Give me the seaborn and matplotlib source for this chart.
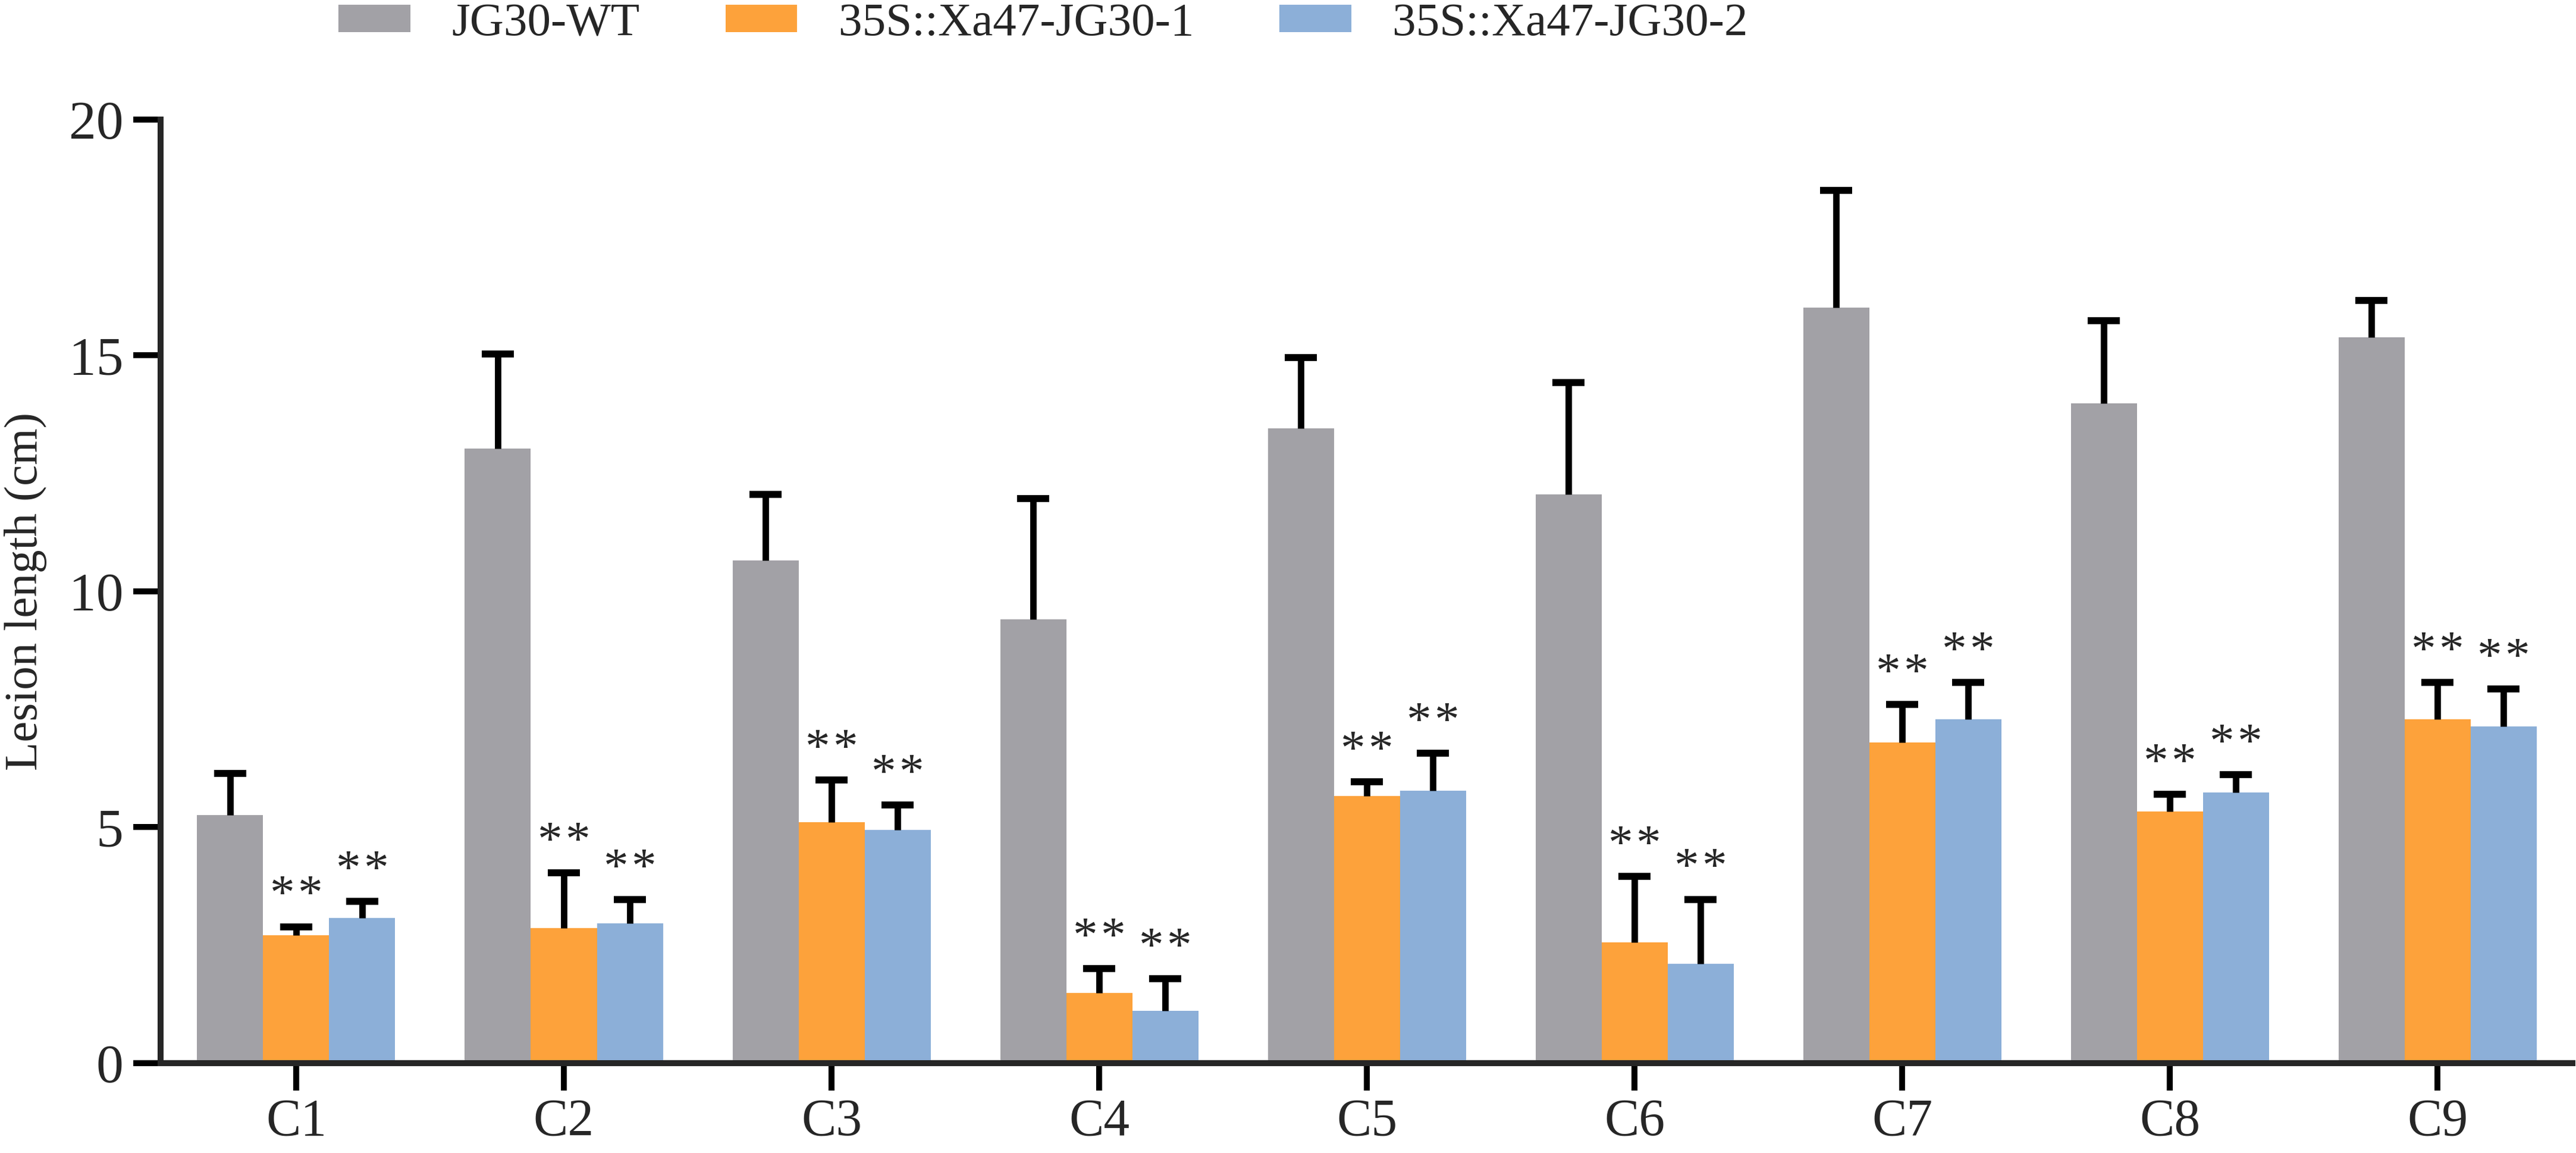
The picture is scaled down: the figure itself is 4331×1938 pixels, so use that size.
import numpy as np
import pandas as pd
import matplotlib
matplotlib.use('Agg')
import matplotlib.pyplot as plt
import seaborn as sns

# data (mean and upper SD)
groups = ['C1', 'C2', 'C3', 'C4', 'C5', 'C6', 'C7', 'C8', 'C9']
lines = ['JG30-WT', '35S::Xa47-JG30-1', '35S::Xa47-JG30-2']
wt_mean = [5.26, 13.03, 10.66, 9.40, 13.46, 12.06, 16.01, 13.99, 15.39]
wt_sd = [0.88, 2.00, 1.40, 2.56, 1.50, 2.37, 2.49, 1.75, 0.77]
l1_mean = [2.71, 2.86, 5.11, 1.49, 5.66, 2.56, 6.80, 5.33, 7.29]
l1_sd = [0.18, 1.17, 0.89, 0.51, 0.30, 1.40, 0.80, 0.37, 0.78]
l2_mean = [3.07, 2.96, 4.94, 1.11, 5.77, 2.11, 7.29, 5.74, 7.13]
l2_sd = [0.36, 0.50, 0.53, 0.68, 0.80, 1.36, 0.78, 0.37, 0.80]
signif = [False, True, True]  # "* *" above the two transgenic lines

colors = ['#A2A1A6', '#FDA23B', '#8CAFD8']

means = [wt_mean, l1_mean, l2_mean]
sds = [wt_sd, l1_sd, l2_sd]
df = pd.DataFrame({
    'group': groups * 3,
    'line': np.repeat(lines, len(groups)),
    'length': np.concatenate(means),
})

sns.set_style('ticks')
plt.rcParams['font.family'] = ['Liberation Serif', 'DejaVu Serif']

fig = plt.figure(figsize=(4331 / 300, 1938 / 300), dpi=300)
ax = fig.add_axes([0.0623, 0.078, 0.9363, 0.8183])

sns.barplot(data=df, x='group', y='length', hue='line', hue_order=lines,
            palette=colors, width=0.74, errorbar=None, saturation=1,
            linewidth=0, ax=ax)

# one-sided (upper) error bars and significance stars
bar_conts = list(ax.containers)
for i, cont in enumerate(bar_conts):
    xs = [p.get_x() + p.get_width() / 2 for p in cont.patches]
    hs = [p.get_height() for p in cont.patches]
    eb = ax.errorbar(xs, hs, yerr=[np.zeros(len(hs)), sds[i]], fmt='none',
                     ecolor='black', elinewidth=2.6, capsize=6.5,
                     capthick=2.8, zorder=3)
    # hide the cap sitting on the bar top
    for cap in eb[1]:
        if np.allclose(cap.get_ydata(), hs):
            cap.set_visible(False)
    if signif[i]:
        for x, h, s in zip(xs, hs, sds[i]):
            for dx in (-5.6, 5.6):
                ax.annotate('*', (x, h + s), xytext=(dx, 12),
                            textcoords='offset points', ha='center',
                            va='center', fontsize=20)

ax.set_ylim(0, 20)
ax.set_xlim(-0.507, 8.504)
ax.set_yticks([0, 5, 10, 15, 20])
ax.set_xlabel('')
ax.set_ylabel('Lesion length (cm)', fontsize=19)
ax.yaxis.set_label_coords(-0.047, 0.5)
sns.despine(ax=ax)
for sp in ['left', 'bottom']:
    ax.spines[sp].set_linewidth(2.4)
ax.tick_params(width=2.4, length=11, labelsize=22, color='black')
ax.tick_params(axis='x', pad=3, labelsize=21)
ax.tick_params(axis='y', pad=4)

handles, labels = ax.get_legend_handles_labels()
ax.get_legend().remove()
fig.legend(handles, labels, loc='center', bbox_to_anchor=(0.405, 0.979),
           ncol=3, frameon=False, fontsize=19, handlelength=1.52,
           handleheight=0.52, handletextpad=0.88, columnspacing=1.82)

fig.savefig('out.png', dpi=300)
